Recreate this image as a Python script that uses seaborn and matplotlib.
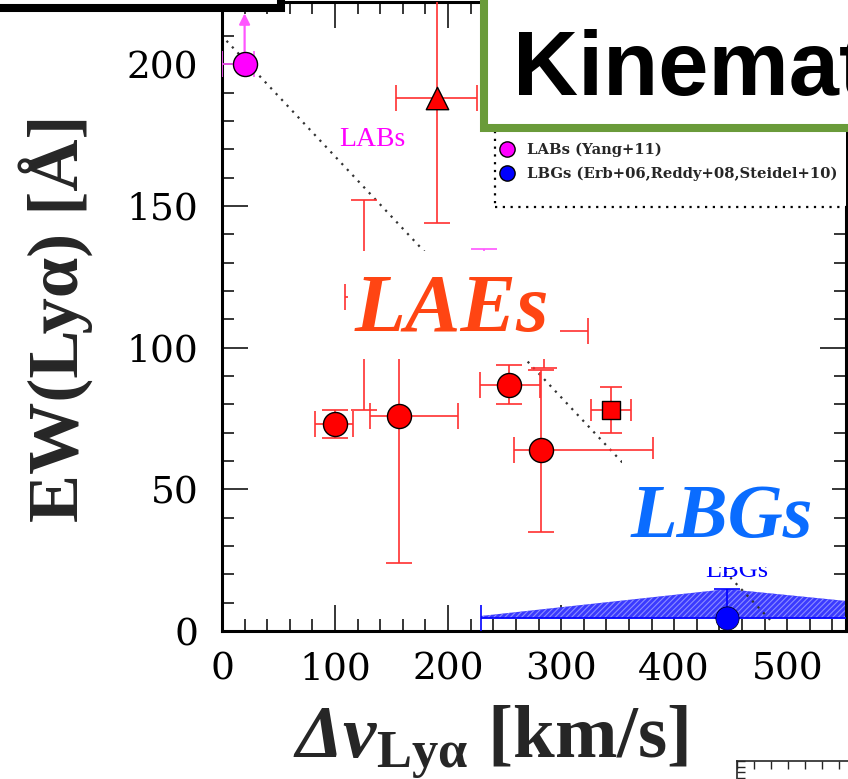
import numpy as np
import pandas as pd
import matplotlib
matplotlib.use("Agg")
import matplotlib.pyplot as plt
import seaborn as sns
from matplotlib.patches import Rectangle
from matplotlib.lines import Line2D
from matplotlib.ticker import MultipleLocator
from matplotlib.transforms import ScaledTranslation

# ---------------- data ----------------
# LAEs, circles (last two hidden behind the "LAEs" label)
lae_dv = [100, 157, 254, 282, 126, 285]
lae_ew = [73, 76, 87, 64, 118, 106]
lae_dv_lo = [18, 26, 26, 24, 17, 33]
lae_dv_hi = [16, 52, 27, 99, 17, 39]
lae_ew_lo = [5, 52, 7, 29, 40, 13]
lae_ew_hi = [5, 34, 7, 28, 34, 13]
# LAE triangle
tri_dv, tri_ew = [190], [188]
tri_dv_err = [36]
tri_ew_lo, tri_ew_hi = [44], [60]
# LAE square
sq_dv, sq_ew = [344], [78]
sq_dv_err, sq_ew_err = [18], [8]
# LABs (second one hidden behind the "LAEs" label)
lab_dv = [20, 232]
lab_ew = [200, 118]
lab_dv_lo = [20, 8]
lab_dv_hi = [8, 8]
lab_ew_lo = [0, 17]
lab_ew_hi = [0, 17]
lab_limit_top = 218
# LBGs
lbg_dv, lbg_ew = [447], [4.5]
lbg_dv_lo, lbg_dv_hi = [218], [218]
lbg_ew_lo, lbg_ew_hi = [0], [10.3]
band_dv = [229, 447, 552]
band_top = [5.3, 14.8, 10.6]
band_bottom = [4.4, 4.4, 4.4]
# dotted relation
line_dv = [4, 488]
line_ew = [208.3, 2.6]

x_ticks = [0, 100, 200, 300, 400, 500]
y_ticks = [0, 50, 100, 150, 200]
legend_labels = ["LABs (Yang+11)", "LBGs (Erb+06,Reddy+08,Steidel+10)"]

# ---------------- figure ----------------
sns.set_style("ticks")
plt.rcParams["font.family"] = ["DejaVu Serif"]
plt.rcParams["mathtext.fontset"] = "custom"
plt.rcParams["mathtext.it"] = "Liberation Serif:italic:bold"
plt.rcParams["mathtext.sf"] = "Liberation Serif:italic:bold"
plt.rcParams["mathtext.bf"] = "Liberation Serif:bold"
plt.rcParams["mathtext.rm"] = "Liberation Serif:bold"
plt.rcParams["hatch.linewidth"] = 0.8

W, H = 848, 779
fig = plt.figure(figsize=(W / 100, H / 100), dpi=100)
fig.patch.set_facecolor("white")
ax = fig.add_axes([222 / W, 1 - 631 / H, (846 - 222) / W, (631 - 2) / H])
ax.set_xlim(0, 552)
ax.set_ylim(0, 222)
ax.set_autoscale_on(False)

RED = "#ff0000"
RED_E = "#ff3030"
MAG = "#ff00ff"
MAG_E = "#ff55ff"
BLUE = "#0000ff"

# LBG band
ax.fill_between(band_dv, band_bottom, band_top, facecolor="#3a3aff",
                edgecolor="#8c8cff", linewidth=0, hatch="//////", zorder=1)

# dotted line
ax.plot(line_dv, line_ew, color="#333333", lw=1.6, linestyle=(0, (1, 2.6)), zorder=2)

cap = 9.4
elw = 1.2
ax.errorbar(lae_dv, lae_ew, xerr=[lae_dv_lo, lae_dv_hi], yerr=[lae_ew_lo, lae_ew_hi],
            fmt="none", ecolor=RED_E, elinewidth=elw, capsize=cap, capthick=elw, zorder=3)
ax.errorbar(tri_dv, tri_ew, xerr=tri_dv_err, yerr=[tri_ew_lo, tri_ew_hi],
            fmt="none", ecolor=RED_E, elinewidth=elw, capsize=cap, capthick=elw, zorder=3)
ax.errorbar(sq_dv, sq_ew, xerr=sq_dv_err, yerr=sq_ew_err,
            fmt="none", ecolor=RED_E, elinewidth=elw, capsize=cap * 0.85, capthick=elw, zorder=3)
ax.errorbar(lab_dv, lab_ew, xerr=[lab_dv_lo, lab_dv_hi], yerr=[lab_ew_lo, lab_ew_hi],
            fmt="none", ecolor=MAG_E, elinewidth=elw, capsize=cap, capthick=elw, zorder=3)
ax.errorbar(lbg_dv, lbg_ew, xerr=[lbg_dv_lo, lbg_dv_hi], yerr=[lbg_ew_lo, lbg_ew_hi],
            fmt="none", ecolor=BLUE, elinewidth=elw, capsize=cap, capthick=elw, zorder=3)
ax.annotate("", xy=(lab_dv[0], lab_limit_top), xytext=(lab_dv[0], lab_ew[0]),
            arrowprops=dict(arrowstyle="-|>", color=MAG_E, lw=1.6, mutation_scale=16,
                            shrinkA=0, shrinkB=0), zorder=3)

df_lae = pd.DataFrame({"dv": lae_dv, "ew": lae_ew})
sns.scatterplot(data=df_lae, x="dv", y="ew", ax=ax, color=RED, edgecolor="black",
                linewidth=1.0, s=300, marker="o", zorder=5, legend=False)
sns.scatterplot(x=tri_dv, y=tri_ew, ax=ax, color=RED, edgecolor="black",
                linewidth=1.0, s=260, marker="^", zorder=5, legend=False)
sns.scatterplot(x=sq_dv, y=sq_ew, ax=ax, color=RED, edgecolor="black",
                linewidth=1.0, s=170, marker="s", zorder=5, legend=False)
sns.scatterplot(x=lab_dv, y=lab_ew, ax=ax, color=MAG, edgecolor="black",
                linewidth=1.0, s=300, marker="o", zorder=5, legend=False)
sns.scatterplot(x=lbg_dv, y=lbg_ew, ax=ax, color=BLUE, edgecolor="black",
                linewidth=0.5, s=280, marker="o", zorder=5, legend=False)

# small labels
ax.text(132.7, 173.6, "LABs", color=MAG, fontsize=20, family="Liberation Serif",
        ha="center", va="center", zorder=4)
ax.text(455, 21.2, "LBGs", color=BLUE, fontsize=19, family="Liberation Serif",
        ha="center", va="center", zorder=4)

# big labels with white masks (mask sizes in inches around each label anchor)
def big_label(x, y, s, color, size, left, right, up, down):
    tr = fig.dpi_scale_trans + ScaledTranslation(x, y, ax.transData)
    ax.add_patch(Rectangle((-left, -down), left + right, up + down, transform=tr,
                           facecolor="white", edgecolor="none", zorder=5.5))
    ax.text(x, y, s, color=color, fontsize=size, family="Liberation Serif",
            weight="bold", style="italic", ha="center", va="baseline", zorder=6)

big_label(203.5, 105.9, "LAEs", "#ff4513", 60, 1.04, 1.08, 0.80, 0.28)
big_label(442.5, 33.2, "LBGs", "#0a6cff", 55, 1.00, 1.10, 0.78, 0.30)

# legend (dotted frame drawn separately)
ax.add_patch(Rectangle(((495 - 222) / 624, (631 - 207) / 629), 0.6, 0.3,
                       transform=ax.transAxes, facecolor="white", edgecolor="black",
                       linestyle=(0, (1, 2.5)), linewidth=1.6, zorder=6.5))
handles = [Line2D([], [], marker="o", linestyle="none", markerfacecolor=MAG,
                  markeredgecolor="black", markersize=11),
           Line2D([], [], marker="o", linestyle="none", markerfacecolor=BLUE,
                  markeredgecolor="black", markersize=11)]
leg = ax.legend(handles, legend_labels, loc="center left",
                bbox_to_anchor=((501 - 222) / 624, (631 - 162) / 629),
                borderaxespad=0, borderpad=0, frameon=False, handlelength=0.8,
                handletextpad=0.95, labelspacing=0.62,
                prop={"family": "DejaVu Serif", "weight": "bold", "size": 10.6})
leg.set_zorder(7)

# axes styling
ax.set_xticks(x_ticks)
ax.set_yticks(y_ticks)
ax.xaxis.set_minor_locator(MultipleLocator(20))
ax.yaxis.set_minor_locator(MultipleLocator(10))
ax.tick_params(which="both", direction="in", top=True, right=True, colors="black")
ax.tick_params(which="major", length=18.7, width=1.1, labelsize=27)
ax.tick_params(which="minor", length=8.6, width=1.1)
ax.tick_params(axis="x", which="major", pad=15)
ax.tick_params(axis="y", which="major", pad=17)
for sp in ax.spines.values():
    sp.set_linewidth(2.2)
    sp.set_color("black")
ax.set_xlabel("")
ax.set_ylabel("")
ax.set_xlim(0, 552)
ax.set_ylim(0, 222)

# axis titles
fig.text(56 / W, 1 - 318 / H, "EW(Lyα) [Å]", rotation=90, ha="center", va="center",
         fontsize=52, family="Liberation Serif", weight="bold")
fig.text(293 / W, 1 - 757 / H, r"$\mathsf{Δv}_{\mathbf{Lyα}}$ [km/s]",
         ha="left", va="baseline", fontsize=54, family="Liberation Serif", weight="bold")

# overlapping slide elements
fig.add_artist(Rectangle((484 / W, 1 - 128 / H), 0.6, 0.3, transform=fig.transFigure,
                         facecolor="white", edgecolor="#6a9b3a", linewidth=5.8, zorder=10))
fig.text(513 / W, 1 - 95 / H, "Kinematics", ha="left", va="baseline", fontsize=65,
         family="Liberation Sans", weight="bold", color="black", zorder=11)
fig.add_artist(Rectangle((-30 / W, 1 - 8 / H), (281 + 30) / W, 0.2, transform=fig.transFigure,
                         facecolor="white", edgecolor="black", linewidth=5.8, zorder=10))

# piece of a neighbouring panel at bottom right
ax2 = fig.add_axes([737 / W, -0.05, 0.2, (779 - 761) / H + 0.05])
ax2.set_xlim(0, 10)
ax2.set_ylim(0, 1)
ax2.xaxis.set_major_locator(MultipleLocator(1))
ax2.yaxis.set_major_locator(MultipleLocator(0.1))
ax2.tick_params(which="both", direction="in", top=True, bottom=False, left=True,
                labelbottom=False, labelleft=False, length=6, width=1)
for sp in ax2.spines.values():
    sp.set_linewidth(1.2)

fig.savefig("out.png", dpi=100)
